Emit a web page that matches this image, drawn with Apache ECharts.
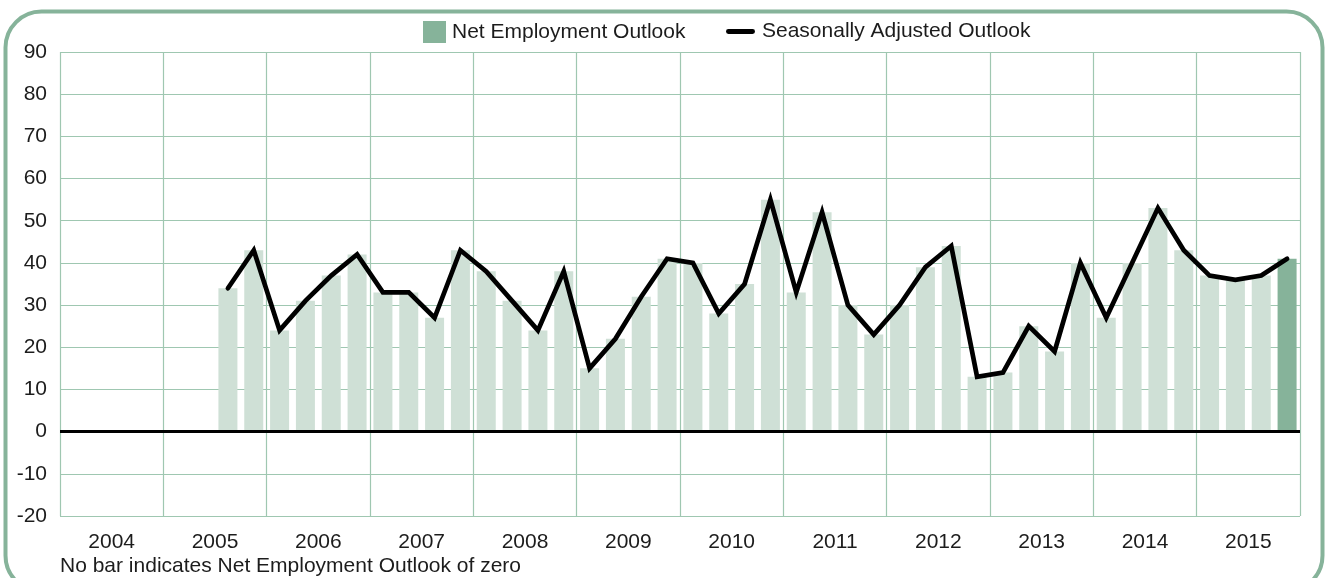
<!DOCTYPE html>
<html>
<head>
<meta charset="utf-8">
<script src="https://cdn.jsdelivr.net/npm/echarts@6/dist/echarts.min.js"></script>
<style>
html,body{margin:0;padding:0;background:#fff;}
#chart{width:1325px;height:578px;}
</style>
</head>
<body>
<div id="chart"></div>
<script>
var years = ['2004','2005','2006','2007','2008','2009','2010','2011','2012','2013','2014','2015'];
var quarters = [];
years.forEach(function(y){ ['Q1','Q2','Q3','Q4'].forEach(function(q){ quarters.push(y + ' ' + q); }); });
var netOutlook = [null,null,null,null,null,null,
  34,43,24,31,37,42,33,33,27,43,38,31,24,38,15,22,32,41,40,28,35,55,33,52,30,23,30,39,44,13,14,25,19,40,27,40,53,43,37,36,37,41];
var seasonallyAdjusted = [null,null,null,null,null,null,
  34,43,24,31,37,42,33,33,27,43,38,31,24,38,15,22,32,41,40,28,35,55,33,52,30,23,30,39,44,13,14,25,19,40,27,40,53,43,37,36,37,41];
var yTicks = {min:-20, max:90, interval:10};
var footnote = 'No bar indicates Net Employment Outlook of zero';

var lightGreen = '#cfe0d6', darkGreen = '#86b39a', gridGreen = '#9fc7b1';
var barData = netOutlook.map(function(v, i){
  if (i === netOutlook.length - 1) return {value: v, itemStyle: {color: darkGreen}};
  return v;
});
var font = '"Liberation Sans", Arial, Helvetica, sans-serif';
var textColor = '#1c1c1c';

var chart = echarts.init(document.getElementById('chart'), null, {renderer:'canvas'});
chart.setOption({
  animation: false,
  backgroundColor: '#fff',
  textStyle: {fontFamily: font},
  legend: [
    {left: 418, top: 16, itemWidth: 23, itemHeight: 22, itemGap: 10,
     textStyle: {fontSize: 21, color: textColor, fontFamily: font, padding: [0,0,0,1]},
     data: [{name: 'Net Employment Outlook', icon: 'rect', itemStyle: {color: darkGreen}}]},
    {left: 721, top: 16, itemWidth: 29, itemHeight: 22, itemGap: 10,
     textStyle: {fontSize: 21, color: textColor, fontFamily: font, padding: [0,0,0,2]},
     data: [{name: 'Seasonally Adjusted Outlook',
             icon: 'path://M2,9 L27,9 A2.5,2.5 0 0 1 27,14 L2,14 A2.5,2.5 0 0 1 2,9 Z',
             itemStyle: {color: '#000'}}]}
  ],
  grid: {left: 60, right: 25, top: 52, bottom: 62, containLabel: false},
  xAxis: [
    {type: 'category', data: quarters, show: false, boundaryGap: true},
    {type: 'category', data: years, position: 'bottom', boundaryGap: true,
     axisLine: {show: false}, axisTick: {show: false},
     axisLabel: {fontSize: 21, color: textColor, margin: 16, fontFamily: font},
     splitLine: {show: true, interval: 0, lineStyle: {color: gridGreen, width: 1.2}}}
  ],
  yAxis: {
    type: 'value', min: yTicks.min, max: yTicks.max, interval: yTicks.interval,
    axisLine: {show: false}, axisTick: {show: false},
    axisLabel: {fontSize: 21, color: textColor, margin: 13, fontFamily: font},
    splitLine: {show: true, lineStyle: {color: gridGreen, width: 1.2}}
  },
  series: [
    {name: 'Net Employment Outlook', type: 'bar', xAxisIndex: 0, data: barData,
     barWidth: 19, itemStyle: {color: lightGreen},
     markLine: {silent: true, symbol: 'none', label: {show: false},
       lineStyle: {color: '#000', width: 3, type: 'solid'}, data: [{yAxis: 0}]}},
    {name: 'Seasonally Adjusted Outlook', type: 'line', xAxisIndex: 0, data: seasonallyAdjusted,
     symbol: 'none', showSymbol: false, z: 5,
     itemStyle: {color: '#000'},
     lineStyle: {color: '#000', width: 4.7, join: 'miter', cap: 'round'}}
  ],
  graphic: [
    {type: 'rect', left: 3, top: 9, z: -10, silent: true,
     shape: {width: 1317, height: 580, r: 36},
     style: {fill: 'none', stroke: darkGreen, lineWidth: 4}},
    {type: 'text', left: 60, top: 556, silent: true,
     style: {text: footnote, fill: textColor, font: '21px ' + font}}
  ]
});
</script>
</body>
</html>
